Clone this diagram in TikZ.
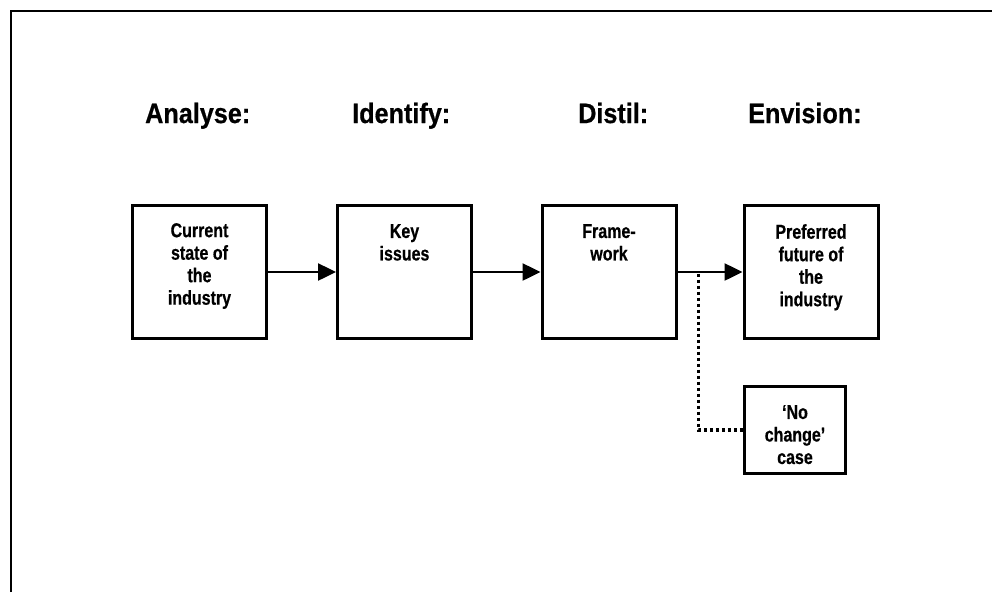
\documentclass[tikz,border=0pt]{standalone}
\usepackage{fontspec}
\usetikzlibrary{arrows.meta,calc}
\newfontfamily\headfont[FakeStretch=0.9,FakeBold=0.6]{Liberation Sans}
\newfontfamily\boxfont[FakeStretch=0.8,FakeBold=0.6]{Liberation Sans}

\tikzset{
  stage/.style={draw, line width=3pt, fill=white, inner sep=0pt,
                minimum width=134pt, minimum height=133pt},
  smallstage/.style={stage, minimum width=101pt, minimum height=87pt},
  boxtext/.style={anchor=north, inner sep=0pt, align=center,
                  font=\boxfont\bfseries\fontsize{20}{22.5}\selectfont},
  heading/.style={anchor=base west, inner sep=0pt,
                  font=\headfont\bfseries\fontsize{28}{32}\selectfont},
  flow/.style={line width=2.5pt, -{Triangle[length=18pt,width=17pt]}},
  dotline/.style={line width=3.2pt, dash pattern=on 3pt off 3pt},
  frameline/.style={line width=2pt}
}

\begin{document}
\begin{tikzpicture}[x=1pt, y=-1pt]
  % page area
  \fill[white] (0,0) rectangle (992,592);
  \useasboundingbox (0,0) rectangle (992,592);

  % open frame (top and left edges)
  \draw[frameline] (11,592) -- (11,11) -- (992,11);

  % stage headings
  \node[heading] (h1) at (145,123) {Analyse:};
  \node[heading] (h2) at (352,123) {Identify:};
  \node[heading] (h3) at (578,123) {Distil:};
  \node[heading] (h4) at (748,123) {Envision:};

  % stage boxes
  \node[stage] (b1) at (199.5,272) {};
  \node[stage] (b2) at (404.5,272) {};
  \node[stage] (b3) at (609,272) {};
  \node[stage] (b4) at (811,272) {};
  \node[smallstage] (b5) at (795,430) {};

  % box contents, set from the top of each box
  \node[boxtext] (t1) at ($(b1.north)+(0,19)$) {Current\\state of\\the\\industry};
  \node[boxtext] (t2) at ($(b2.north)+(0,20)$) {Key\\issues};
  \node[boxtext] (t3) at ($(b3.north)+(0,20)$) {Frame-\\work};
  \node[boxtext] (t4) at ($(b4.north)+(0,20)$) {Preferred\\future of\\the\\industry};
  \node[boxtext] (t5) at ($(b5.north)+(0,20)$) {‘No\\change’\\case};

  % main flow
  \draw[flow] (b1.east) -- (b2.west);
  \draw[flow] (b2.east) -- (b3.west);
  \draw[flow] (b3.east) -- (b4.west);

  % branch to the 'no change' case
  \coordinate (split) at ($(b3.east)!0.32!(b4.west)$);
  \draw[dotline] ([yshift=-1.5pt]split) |- (b5.west);
\end{tikzpicture}
\end{document}
